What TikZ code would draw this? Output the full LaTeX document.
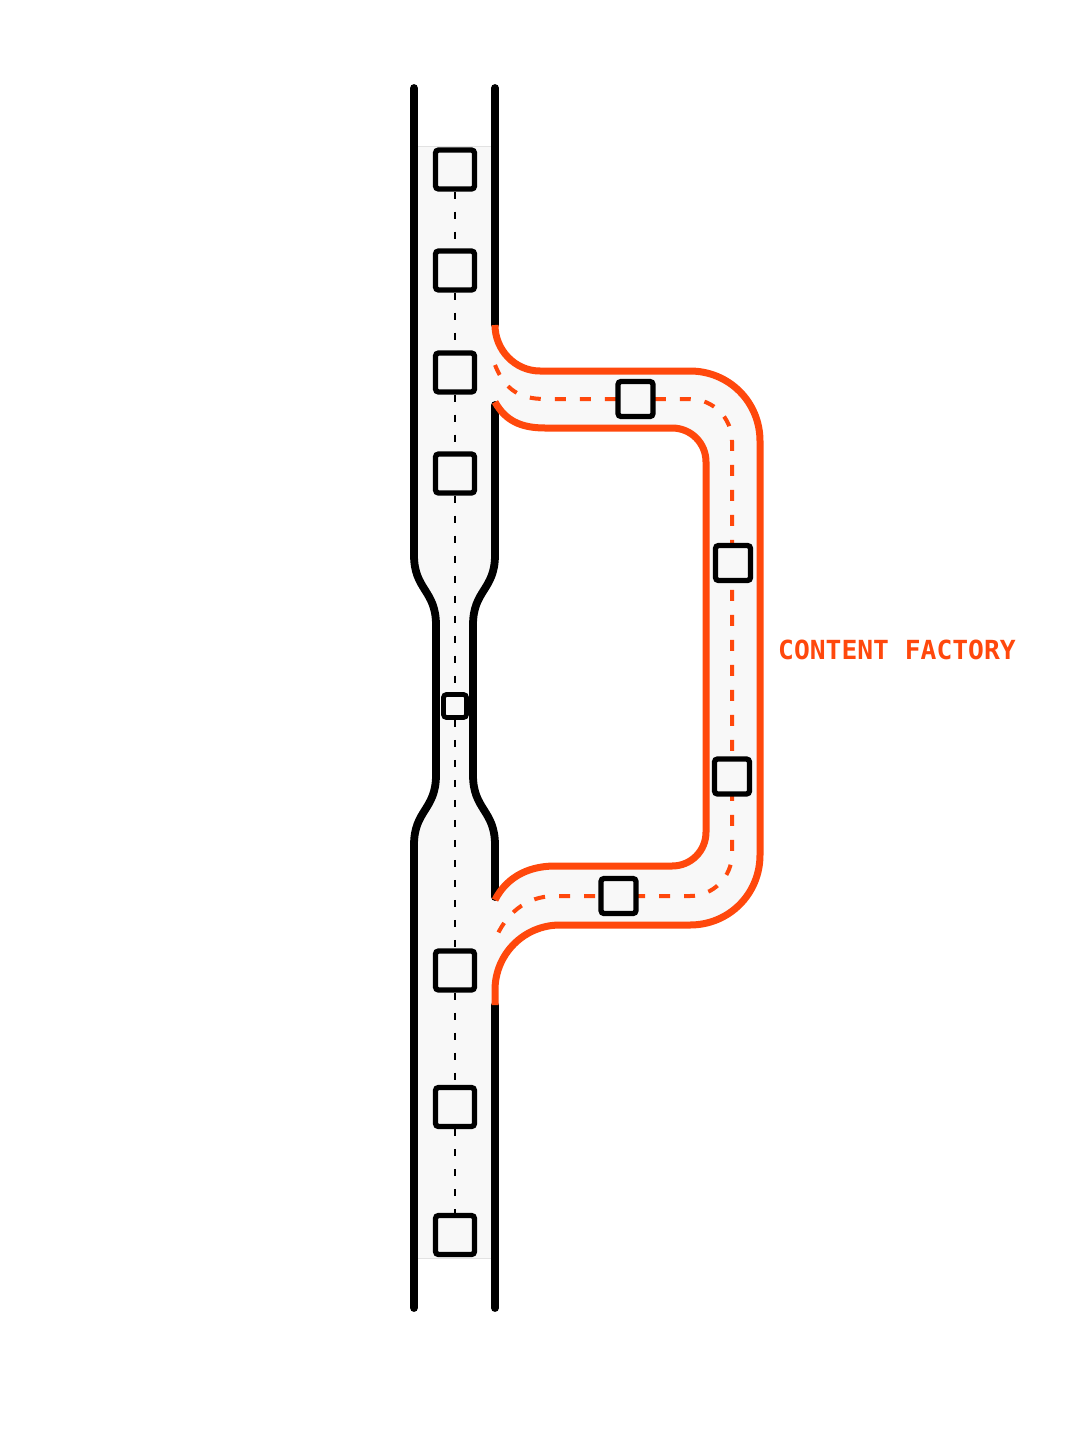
\documentclass[tikz,border=0pt]{standalone}
\usepackage{fontspec}
\newfontfamily\monof{DejaVu Sans Mono}
\definecolor{org}{RGB}{255,72,12}
\definecolor{lane}{RGB}{248,248,248}
\definecolor{edgegray}{RGB}{226,226,226}
\begin{document}
\begin{tikzpicture}[x=1pt,y=-1pt,
  wall/.style={line width=7.8pt,line cap=round,black},
  oline/.style={line width=7pt,org},
  odash/.style={line width=4pt,org,dash pattern=on 11pt off 14pt},
  cdash/.style={line width=2.8pt,black,dash pattern=on 7pt off 13pt},
  sq/.style={draw=black,fill=lane,line width=5.3pt,rounded corners=3pt,minimum size=39pt,inner sep=0pt},
  osq/.style={sq,minimum size=35pt},
  ssq/.style={sq,minimum size=23pt,line width=4.8pt}]
\useasboundingbox (0,0) rectangle (1086,1448);
\fill[white] (0,0) rectangle (1086,1448);
% main lane fill
\fill[lane] (414,146) -- (414,555) .. controls (414,590) and (436,590) .. (436,625) -- (436,775)
  .. controls (436,810) and (414,810) .. (414,845) -- (414,1258) -- (495,1258) -- (495,845)
  .. controls (495,810) and (473,810) .. (473,775) -- (473,625)
  .. controls (473,590) and (495,590) .. (495,555) -- (495,146) -- cycle;
\draw[edgegray,line width=0.8pt] (414,146) -- (495,146);
\draw[edgegray,line width=0.8pt] (414,1258) -- (495,1258);
% branch fill
\fill[lane] (495,325) .. controls (495,350) and (515,371) .. (540,371) -- (690,371)
  .. controls (729,371) and (760,402) .. (760,441) -- (760,855)
  .. controls (760,894) and (729,925) .. (690,925) -- (560,925)
  .. controls (524,925) and (495,954) .. (495,990) -- (495,1005) -- (495,900)
  .. controls (505,880) and (525,866) .. (555,866) -- (672,866)
  .. controls (691,866) and (706,851) .. (706,832) -- (706,462)
  .. controls (706,443) and (691,428) .. (672,428) -- (545,428)
  .. controls (520,428) and (505,420) .. (495,402) -- cycle;
% walls
\draw[wall] (414,88) -- (414,555) .. controls (414,590) and (436,590) .. (436,625) -- (436,775)
  .. controls (436,810) and (414,810) .. (414,845) -- (414,1308);
\draw[wall] (495,88) -- (495,325);
\draw[wall] (495,405) -- (495,555) .. controls (495,590) and (473,590) .. (473,625) -- (473,775)
  .. controls (473,810) and (495,810) .. (495,845) -- (495,897);
\draw[wall] (495,1005) -- (495,1308);
% orange branch lines
\draw[oline] (495,325) .. controls (495,350) and (515,371) .. (540,371) -- (690,371)
  .. controls (729,371) and (760,402) .. (760,441) -- (760,855)
  .. controls (760,894) and (729,925) .. (690,925) -- (560,925)
  .. controls (524,925) and (495,954) .. (495,990) -- (495,1005);
\draw[oline] (495,402) .. controls (505,420) and (520,428) .. (545,428) -- (672,428)
  .. controls (691,428) and (706,443) .. (706,462) -- (706,832)
  .. controls (706,851) and (691,866) .. (672,866) -- (555,866)
  .. controls (525,866) and (505,880) .. (495,900);
\draw[odash] (495,365) .. controls (505,390) and (520,399) .. (545,399) -- (690,399)
  .. controls (713,399) and (732,418) .. (732,441) -- (732,854)
  .. controls (732,877) and (713,896) .. (690,896) -- (555,896)
  .. controls (525,896) and (505,915) .. (495,940);
% squares on main lane
\node[sq] (s1) at (455,169.5) {};
\node[sq] (s2) at (455,270.5) {};
\node[sq] (s3) at (455,372.5) {};
\node[sq] (s4) at (455,473.5) {};
\node[ssq] (s5) at (455,706) {};
\node[sq] (s6) at (455,970.5) {};
\node[sq] (s7) at (455,1107) {};
\node[sq] (s8) at (455,1235) {};
\foreach \a/\b in {s1/s2,s2/s3,s3/s4,s4/s5,s5/s6,s6/s7,s7/s8}
  \draw[cdash] (\a) -- (\b);
% squares on branch
\node[osq] (o1) at (635.5,399) {};
\node[osq] (o2) at (733,563) {};
\node[osq] (o3) at (732,776.5) {};
\node[osq] (o4) at (618.5,896) {};
% label
\node[font=\monof\bfseries\fontsize{26.3}{30}\selectfont,text=org,anchor=base west,inner sep=0pt] (lbl) at (778,659.5) {CONTENT FACTORY};
\end{tikzpicture}
\end{document}
